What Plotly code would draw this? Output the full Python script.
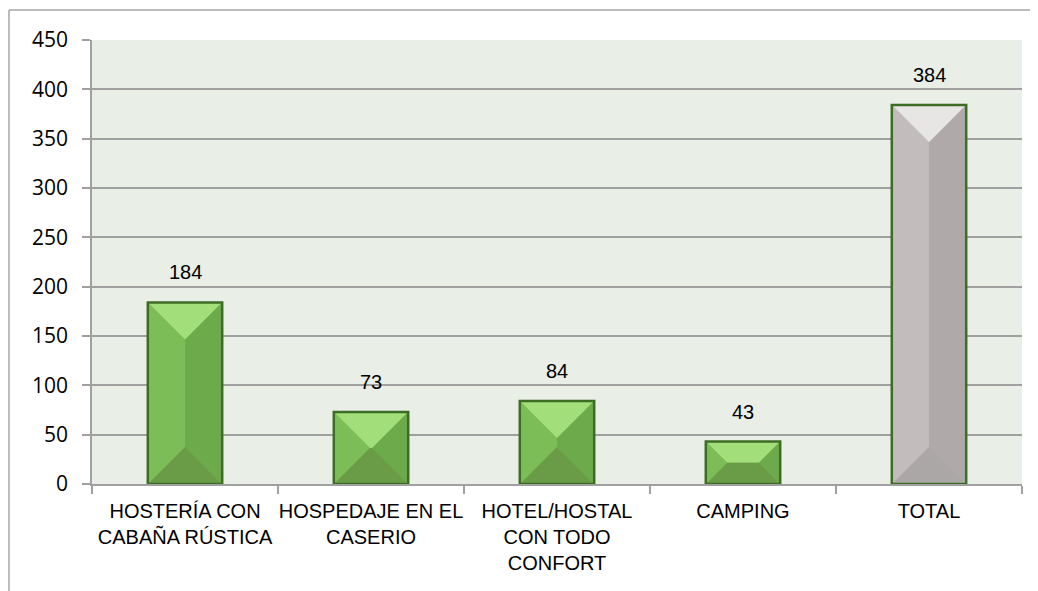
import plotly.graph_objects as go

# ---- Data ----
categories = ['HOSTERÍA CON<br>CABAÑA RÚSTICA', 'HOSPEDAJE EN EL<br>CASERIO',
              'HOTEL/HOSTAL<br>CON TODO<br>CONFORT', 'CAMPING', 'TOTAL']
values = [184, 73, 84, 43, 384]
is_total = [False, False, False, False, True]

y_ticks = [0, 50, 100, 150, 200, 250, 300, 350, 400, 450]

# ---- Layout constants ----
# page body has an 8px margin, so the figure is 8px smaller than the window
W, H = 1030, 583
M_L, M_R, M_T, M_B = 84, 16, 32, 107
BAR_W = 0.4
label_font = "Liberation Sans, Arial"

# pixels per data unit (used to keep bevel square-ish)
kx = (W - M_L - M_R) / len(categories)
ky = (H - M_T - M_B) / (y_ticks[-1] - y_ticks[0])

green = dict(base='#78b852', top='#a2de7a', left='#7cbd57', right='#6caa4c', bottom='#6a9c48')
grey = dict(base='#bcb8b7', top='#e8e5e5', left='#c2bdbc', right='#afaaa9', bottom='#aba7a6')
border = '#3d6c24'

xs = list(range(len(categories)))

fig = go.Figure()

# base bars
fig.add_trace(go.Bar(
    x=xs, y=values, width=BAR_W,
    marker=dict(color=[grey['base'] if t else green['base'] for t in is_total], line=dict(width=0)),
    hoverinfo='skip', showlegend=False,
))

# bevel faces
for face in ['top', 'bottom', 'left', 'right']:
    for pal, flag in [(green, False), (grey, True)]:
        px_, py_ = [], []
        for x, v, t in zip(xs, values, is_total):
            if t != flag:
                continue
            x0, x1 = x - BAR_W / 2, x + BAR_W / 2
            d = min(BAR_W * kx / 2, v * ky / 2)
            dx, dy = d / kx, d / ky
            if face == 'top':
                pts = [(x0, v), (x1, v), (x1 - dx, v - dy), (x0 + dx, v - dy)]
            elif face == 'bottom':
                pts = [(x0, 0), (x1, 0), (x1 - dx, dy), (x0 + dx, dy)]
            elif face == 'left':
                pts = [(x0, 0), (x0, v), (x0 + dx, v - dy), (x0 + dx, dy)]
            else:
                pts = [(x1, 0), (x1, v), (x1 - dx, v - dy), (x1 - dx, dy)]
            pts.append(pts[0])
            px_ += [p[0] for p in pts] + [None]
            py_ += [p[1] for p in pts] + [None]
        fig.add_trace(go.Scatter(
            x=px_, y=py_, mode='lines', fill='toself', fillcolor=pal[face],
            line=dict(width=0), hoverinfo='skip', showlegend=False,
        ))

# bar outlines
ox, oy = [], []
for x, v in zip(xs, values):
    x0, x1 = x - BAR_W / 2, x + BAR_W / 2
    ox += [x0, x0, x1, x1, x0, None]
    oy += [0, v, v, 0, 0, None]
fig.add_trace(go.Scatter(x=ox, y=oy, mode='lines', line=dict(color=border, width=2.5),
                         hoverinfo='skip', showlegend=False))

# data labels
for x, v in zip(xs, values):
    fig.add_annotation(x=x, y=v, text=str(v), showarrow=False, yanchor='bottom', yshift=17,
                       font=dict(family=label_font, size=20, color='black'))

# outer chart border (top and left edges visible)
pw, ph = W - M_L - M_R, H - M_T - M_B
bx, by = -(M_L - 1) / pw, 1 + (M_T - 2) / ph
fig.add_shape(type='line', xref='paper', yref='paper',
              x0=bx, x1=(W - M_L) / pw, y0=by, y1=by,
              line=dict(color='#a6a6a6', width=1.5))
fig.add_shape(type='line', xref='paper', yref='paper',
              x0=bx, x1=bx, y0=-M_B / ph, y1=by,
              line=dict(color='#a6a6a6', width=1.5))

fig.update_layout(
    width=W, height=H,
    margin=dict(l=M_L, r=M_R, t=M_T, b=M_B),
    paper_bgcolor='white',
    plot_bgcolor='#e9eee6',
    barmode='overlay',
    showlegend=False,
    xaxis=dict(
        range=[-0.5, len(categories) - 0.5],
        tickvals=xs, ticktext=categories,
        ticks='', showgrid=False, zeroline=False,
        showline=True, linecolor='#a0a0a0', linewidth=1.5,
        tickfont=dict(family=label_font, size=20, color='black'),
        ticklabelstandoff=8,
        minor=dict(tickvals=[x - 0.5 for x in xs] + [xs[-1] + 0.5], ticks='outside',
                   ticklen=8, tickcolor='#a0a0a0', tickwidth=1.5, showgrid=False),
        fixedrange=True,
    ),
    yaxis=dict(
        range=[y_ticks[0], y_ticks[-1]],
        tickvals=y_ticks,
        ticks='outside', ticklen=8, tickcolor='#a0a0a0', tickwidth=1.5,
        showgrid=True, gridcolor='#a0a0a0', gridwidth=1.5,
        zeroline=False,
        showline=True, linecolor='#a0a0a0', linewidth=1.5,
        tickfont=dict(family='Open Sans, Liberation Sans, Arial', size=21, color='black'),
        ticklabelstandoff=10,
        fixedrange=True,
    ),
)

fig.write_html("out.html")
